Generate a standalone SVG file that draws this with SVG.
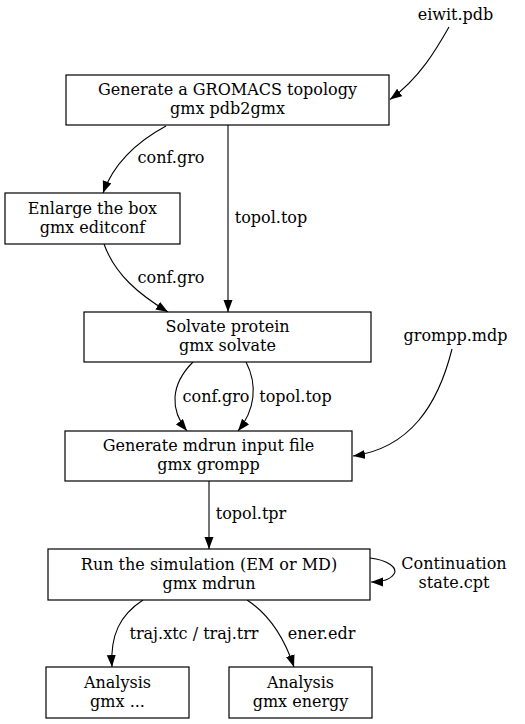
<svg xmlns="http://www.w3.org/2000/svg" width="525" height="724" viewBox="0 0 525 724">
<defs>
<marker id="ah" markerUnits="userSpaceOnUse" markerWidth="13" markerHeight="10" refX="12" refY="4.5" orient="auto">
<path d="M0,0 L12,4.5 L0,9 z" fill="#000"/>
</marker>
</defs>
<rect width="525" height="724" fill="#fff"/>
<g id="edges" fill="none" stroke="#000" stroke-width="1.1">
<path d="M449,27 C437,48 420,78 390,99.5" marker-end="url(#ah)"/>
<path d="M166,126 C140,140 115,160 103,193" marker-end="url(#ah)"/>
<path d="M228,125 L228,312" marker-end="url(#ah)"/>
<path d="M104,244 C115,275 140,295 168,312" marker-end="url(#ah)"/>
<path d="M193,362 C170,385 170,410 187,431" marker-end="url(#ah)"/>
<path d="M246,362 C258,385 255,410 238,431" marker-end="url(#ah)"/>
<path d="M452,349 C438,405 410,448 353,456" marker-end="url(#ah)"/>
<path d="M209,481 L209,549" marker-end="url(#ah)"/>
<path d="M370,558 C388,560 398,568 394,574 C390,580 382,582 371,582" marker-end="url(#ah)"/>
<path d="M143,600 C120,615 110,635 112,667" marker-end="url(#ah)"/>
<path d="M247,600 C270,615 285,640 294,667" marker-end="url(#ah)"/>
</g>
<g id="edge-labels" fill="#000" stroke="none" text-anchor="middle">
<text style="font-family:'DejaVu Serif';font-size:16px" x="455.5" y="20">eiwit.pdb</text>
<text style="font-family:'DejaVu Serif';font-size:16px" x="171" y="163">conf.gro</text>
<text style="font-family:'DejaVu Serif';font-size:16px" x="271" y="223">topol.top</text>
<text style="font-family:'DejaVu Serif';font-size:16px" x="171" y="282.5">conf.gro</text>
<text style="font-family:'DejaVu Serif';font-size:16px" x="455.5" y="341">grompp.mdp</text>
<text style="font-family:'DejaVu Serif';font-size:16px" x="216" y="401.5">conf.gro</text>
<text style="font-family:'DejaVu Serif';font-size:16px" x="295.5" y="401.5">topol.top</text>
<text style="font-family:'DejaVu Serif';font-size:16px" x="251" y="519">topol.tpr</text>
<text style="font-family:'DejaVu Serif';font-size:16px" x="454" y="569">Continuation</text>
<text style="font-family:'DejaVu Serif';font-size:16px" x="454" y="588">state.cpt</text>
<text style="font-family:'DejaVu Serif';font-size:16px" x="194" y="639">traj.xtc / traj.trr</text>
<text style="font-family:'DejaVu Serif';font-size:16px" x="321.5" y="639">ener.edr</text>
</g>
<g id="pdb2gmx" text-anchor="middle">
<rect x="66" y="75" width="323" height="50" fill="#fff" stroke="#000" stroke-width="1.2"/>
<text style="font-family:'DejaVu Serif';font-size:16px" x="227.5" y="95">Generate a GROMACS topology</text>
<text style="font-family:'DejaVu Serif';font-size:16px" x="227.5" y="114">gmx pdb2gmx</text>
</g>
<g id="editconf" text-anchor="middle">
<rect x="5" y="193" width="175" height="51" fill="#fff" stroke="#000" stroke-width="1.2"/>
<text style="font-family:'DejaVu Serif';font-size:16px" x="92.5" y="213.5">Enlarge the box</text>
<text style="font-family:'DejaVu Serif';font-size:16px" x="92.5" y="232.5">gmx editconf</text>
</g>
<g id="solvate" text-anchor="middle">
<rect x="84" y="312" width="287" height="50" fill="#fff" stroke="#000" stroke-width="1.2"/>
<text style="font-family:'DejaVu Serif';font-size:16px" x="227.5" y="332">Solvate protein</text>
<text style="font-family:'DejaVu Serif';font-size:16px" x="227.5" y="351">gmx solvate</text>
</g>
<g id="grompp" text-anchor="middle">
<rect x="65" y="431" width="287" height="50" fill="#fff" stroke="#000" stroke-width="1.2"/>
<text style="font-family:'DejaVu Serif';font-size:16px" x="208.5" y="451">Generate mdrun input file</text>
<text style="font-family:'DejaVu Serif';font-size:16px" x="208.5" y="470">gmx grompp</text>
</g>
<g id="mdrun" text-anchor="middle">
<rect x="48" y="549" width="322" height="51" fill="#fff" stroke="#000" stroke-width="1.2"/>
<text style="font-family:'DejaVu Serif';font-size:16px" x="209" y="569.5">Run the simulation (EM or MD)</text>
<text style="font-family:'DejaVu Serif';font-size:16px" x="209" y="588.5">gmx mdrun</text>
</g>
<g id="analysis" text-anchor="middle">
<rect x="46" y="667" width="143" height="51" fill="#fff" stroke="#000" stroke-width="1.2"/>
<text style="font-family:'DejaVu Serif';font-size:16px" x="117.5" y="687.5">Analysis</text>
<text style="font-family:'DejaVu Serif';font-size:16px" x="117.5" y="706.5">gmx ...</text>
</g>
<g id="energy" text-anchor="middle">
<rect x="229" y="667" width="143" height="51" fill="#fff" stroke="#000" stroke-width="1.2"/>
<text style="font-family:'DejaVu Serif';font-size:16px" x="300.5" y="687.5">Analysis</text>
<text style="font-family:'DejaVu Serif';font-size:16px" x="300.5" y="706.5">gmx energy</text>
</g>
</svg>
